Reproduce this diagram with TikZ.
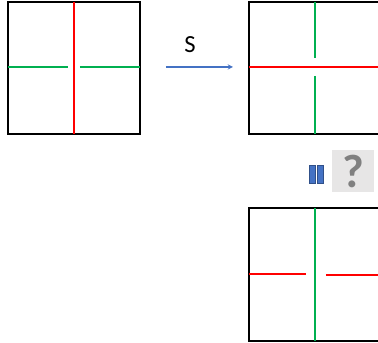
\documentclass[tikz,border=0pt]{standalone}
\usepackage{fontspec}
\setmainfont{Carlito}
\definecolor{gridred}{HTML}{FF0000}
\definecolor{gridgreen}{HTML}{00B050}
\definecolor{arrowblue}{HTML}{4472C4}
\definecolor{qgray}{HTML}{808080}
\definecolor{qback}{HTML}{E7E6E6}
\begin{document}
\begin{tikzpicture}[x=0.03cm, y=-0.03cm, >=stealth,
    frame/.style={line width=2.4pt, black},
    redline/.style={line width=1.6pt, gridred},
    greenline/.style={line width=1.6pt, gridgreen}]
    \useasboundingbox (0,0) rectangle (378,343);
    \clip (0,0) rectangle (378,343);

    % left square
    \begin{scope}
        \draw[frame] (8,2) rectangle (140,134);
        \draw[redline] (74,2) -- (74,134);
        \draw[greenline] (8,67) -- (68,67);
        \draw[greenline] (80,67) -- (140,67);
    \end{scope}

    % the map S
    \coordinate (sfrom) at (166,67);
    \coordinate (sto) at (233,67);
    \draw[->, arrowblue, line width=1pt] (sfrom) -- (sto);
    \node (slabel) at (190,44.5) {\fontsize{21}{21}\selectfont S};

    % right square, cut off by the page edge
    \begin{scope}[shift={(249,0)}]
        \draw[frame] (0,2) rectangle (140,134);
        \draw[redline] (0,67) -- (140,67);
        \draw[greenline] (66,2) -- (66,58);
        \draw[greenline] (66,76) -- (66,134);
    \end{scope}

    % equals sign and question mark
    \fill[arrowblue, draw=arrowblue!70!black, line width=0.4pt] (309,165) rectangle (315,183);
    \fill[arrowblue, draw=arrowblue!70!black, line width=0.4pt] (317,165) rectangle (323,183);
    \node[fill=qback, minimum width=1.26cm, minimum height=1.26cm, inner sep=0pt,
        text=qgray] (qmark) at (353,171) {\fontsize{40}{40}\selectfont\bfseries ?};

    % bottom square
    \begin{scope}[shift={(249,206)}]
        \draw[frame] (0,2) rectangle (140,135);
        \draw[greenline] (66,2) -- (66,135);
        \draw[redline] (0,68) -- (57,68);
        \draw[redline] (77,69) -- (140,69);
    \end{scope}
\end{tikzpicture}
\end{document}
